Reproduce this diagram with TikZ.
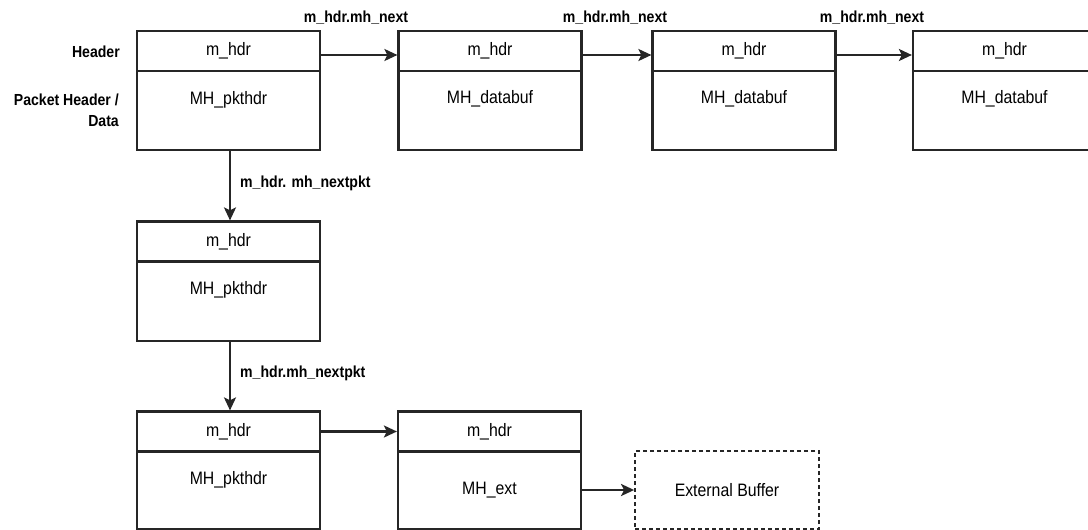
\documentclass[tikz,border=0pt]{standalone}
\usepackage{fontspec}
\setmainfont{Liberation Sans}[FakeStretch=0.88]
\usetikzlibrary{arrows.meta}
\begin{document}
\begin{tikzpicture}[x=1pt,y=-1pt,
  boxline/.style={draw=black!85,line width=2.2pt},
  hdr/.style={boxline,minimum width=183pt,minimum height=40pt,inner sep=0pt,font=\fontsize{18}{21}\selectfont},
  bodybox/.style={boxline,minimum width=183pt,inner sep=0pt},
  txt/.style={inner sep=0pt,font=\fontsize{18}{21}\selectfont},
  lbl/.style={inner sep=0pt,font=\fontsize{16}{21}\selectfont\bfseries},
  arr/.style={draw=black!85,line width=2.4pt,-{Stealth[length=13pt,width=12pt,inset=3pt]}},
  extbox/.style={draw=black!85,line width=1.8pt,dash pattern=on 4pt off 3pt,minimum width=184pt,minimum height=78pt,inner sep=0pt,font=\fontsize{18}{21}\selectfont}
]
\useasboundingbox (0,0) rectangle (1088,530);
\fill[white] (0,0) rectangle (1088,530);

% left labels
\node[lbl,anchor=east] (hl) at (120,52) {Header};
\node[lbl,anchor=east,align=right] (pl) at (119,110.5) {Packet Header /\\Data};

% row 1
\node[hdr] (a1h) at (228.5,51) {m\_hdr};
\node[bodybox,minimum height=79pt] (a1b) at (228.5,110.5) {};
\node[txt] (a1t) at (228.5,100) {MH\_pkthdr};

\node[hdr] (a2h) at (490,51) {m\_hdr};
\node[bodybox,minimum height=79pt] (a2b) at (490,110.5) {};
\node[txt] (a2t) at (490,99) {MH\_databuf};

\node[hdr] (a3h) at (744,51) {m\_hdr};
\node[bodybox,minimum height=79pt] (a3b) at (744,110.5) {};
\node[txt] (a3t) at (744,99) {MH\_databuf};

\node[hdr] (a4h) at (1004.5,51) {m\_hdr};
\node[bodybox,minimum height=79pt] (a4b) at (1004.5,110.5) {};
\node[txt] (a4t) at (1004.5,99) {MH\_databuf};

\draw[arr] ([yshift=-4pt]a1h.east) -- ([yshift=-4pt]a2h.west);
\draw[arr] ([yshift=-4pt]a2h.east) -- ([yshift=-4pt]a3h.west);
\draw[arr] ([yshift=-4pt]a3h.east) -- ([yshift=-4pt]a4h.west);
\node[lbl] (l1) at (356,18) {m\_hdr.mh\_next};
\node[lbl] (l2) at (615,18) {m\_hdr.mh\_next};
\node[lbl] (l3) at (872,18) {m\_hdr.mh\_next};

% row 2
\node[hdr] (bh) at (228.5,241.5) {m\_hdr};
\node[bodybox,minimum height=80pt] (bb) at (228.5,301) {};
\node[txt] (bt) at (228.5,290) {MH\_pkthdr};
\draw[arr] ([xshift=1.5pt]a1b.south) -- ([xshift=1.5pt]bh.north);
\node[lbl,anchor=west] (l4) at (240,183) {m\_hdr. mh\_nextpkt};

% row 3
\node[hdr] (ch) at (228.5,431.5) {m\_hdr};
\node[bodybox,minimum height=78pt] (cb) at (228.5,490) {};
\node[txt] (ct) at (228.5,480) {MH\_pkthdr};
\draw[arr] ([xshift=1.5pt]bb.south) -- ([xshift=1.5pt]ch.north);
\node[lbl,anchor=west] (l5) at (240,373) {m\_hdr.mh\_nextpkt};

\node[hdr] (dh) at (489.5,431.5) {m\_hdr};
\node[bodybox,minimum height=78pt] (db) at (489.5,490) {};
\node[txt] (dt) at (489.5,490) {MH\_ext};
\draw[arr] (ch.east) -- (dh.west);

\node[extbox] (ext) at (727,490) {External Buffer};
\draw[arr] (db.east |- ext.west) -- (ext.west);
\end{tikzpicture}
\end{document}
